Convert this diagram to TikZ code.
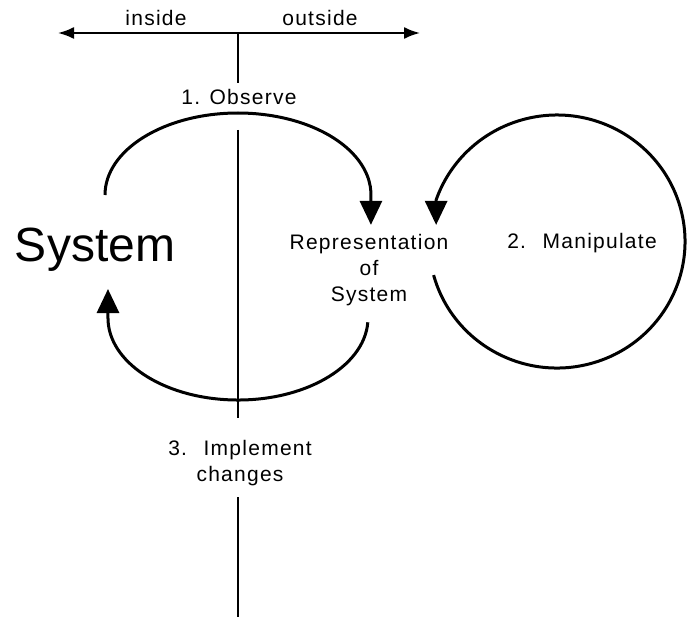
\documentclass[tikz,border=0pt]{standalone}
\usepackage{fontspec}
\setmainfont{Liberation Sans}
\newfontfamily\lblfont[LetterSpace=6]{Liberation Sans}
\usetikzlibrary{arrows.meta}

\begin{document}
\begin{tikzpicture}[x=1pt,y=1pt,scale=0.5]
\tikzstyle{every node}+=[inner sep=0pt, font=\lblfont\fontsize{10.5}{13}\selectfont]
\tikzstyle{bigarrow}=[line width=1.5pt, -{Triangle[length=12pt,width=11pt]}]
\tikzstyle{divider}=[line width=1pt]
\useasboundingbox (0,0) rectangle (688,-620);

% inside / outside
\coordinate (left) at (58,-33);
\coordinate (right) at (420,-33);
\coordinate (top) at (238,-33);
\draw [divider, {Latex[length=8pt,width=6pt]}-{Latex[length=8pt,width=6pt]}] (left) -- (right);
\node (inside) [anchor=base] at (156,-26) {inside};
\node (outside) [anchor=base] at (320,-26) {outside};

% labels
\node (observe) at (239,-97) {1. Observe};
\node (sys) at (95,-250) {\normalfont\fontsize{24}{29}\selectfont System};
\node (repr) [align=center] at (369,-270) {Representation\\of\\System};
\node (manip) at (582,-243) {2.~ Manipulate};
\node (impl) [align=center] at (240,-463) {3.~ Implement\\changes};

% divider between inside and outside
\coordinate (d1) at (238,-83);
\coordinate (d2) at (238,-130);
\coordinate (d3) at (238,-418);
\coordinate (d4) at (238,-497);
\coordinate (d5) at (238,-617);
\draw [divider] (top) -- (d1);
\draw [divider] (d2) -- (d3);
\draw [divider] (d4) -- (d5);

% 1. observe
\coordinate (obs-a) at (105,-195);
\draw [bigarrow] (obs-a) arc [start angle=180, end angle=-2, x radius=133pt, y radius=82pt] -- ++(0,-27);

% 2. manipulate
\coordinate (man-a) at (433.6,-275.1);
\draw [bigarrow] (man-a) arc [start angle=195.4, end angle=520.8, x radius=128pt, y radius=126.5pt] -- ++(0,-25);

% 3. implement changes
\coordinate (imp-a) at (367.8,-322.3);
\draw [bigarrow] (imp-a) arc [start angle=-3, end angle=-180, x radius=130pt, y radius=82pt] -- ++(0,29);

\end{tikzpicture}
\end{document}
